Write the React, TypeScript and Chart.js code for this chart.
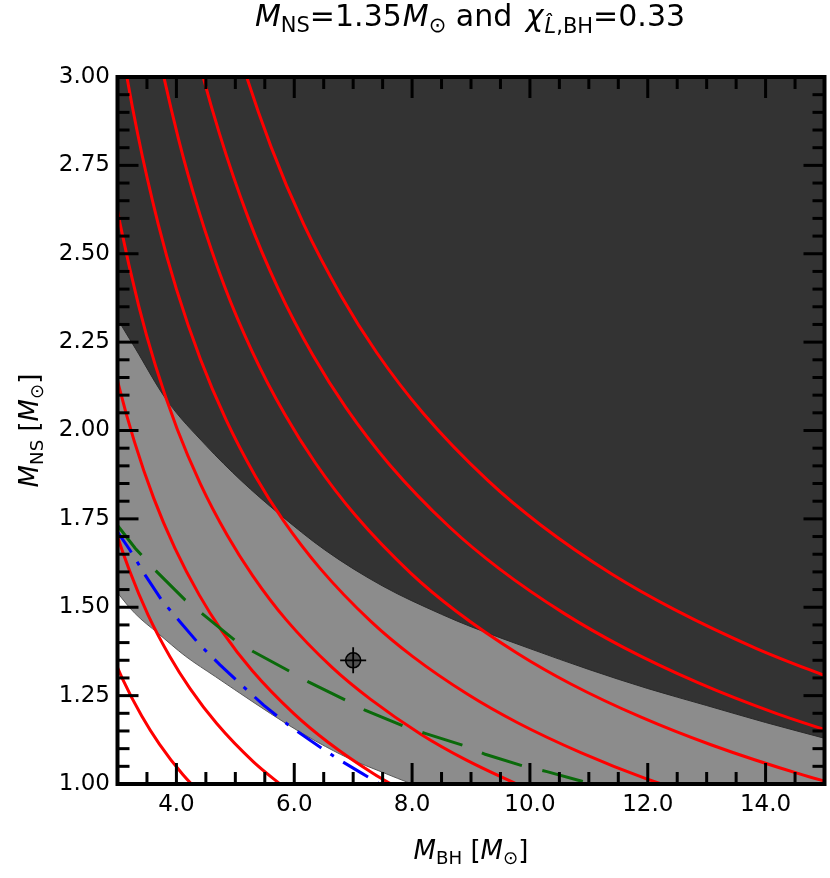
import React, { useEffect, useRef } from 'react';
import { Chart, registerables } from 'chart.js';

Chart.register(...registerables);

// ---- axes ----
const X_MIN = 3;
const X_MAX = 15;
const Y_MIN = 1;
const Y_MAX = 3;
const X_LABELS = [4, 6, 8, 10, 12, 14];
const Y_LABELS = [1.0, 1.25, 1.5, 1.75, 2.0, 2.25, 2.5, 2.75, 3.0];
const X_MINOR_STEP = 0.5;
const Y_MINOR_STEP = 0.05;

// ---- shaded regions (boundary curves, filled up to the top) ----
const DARK_BOUND: [number, number][] = [
  [2.9, 2.345], [2.96, 2.327], [3.3, 2.233], [3.835, 2.086], [4.5, 1.958], [5.1, 1.858],
  [5.73, 1.766], [6.52, 1.662], [7.5, 1.56], [8.5, 1.48], [9.0, 1.445], [10.0, 1.383],
  [11.0, 1.324], [12.0, 1.27], [13.0, 1.222], [14.0, 1.174], [15.1, 1.125],
];
const LOWER_BOUND: [number, number][] = [
  [2.9, 1.565], [3.01, 1.539], [3.3, 1.482], [3.69, 1.426], [4.15, 1.362], [4.66, 1.304],
  [5.3, 1.232], [5.9, 1.167], [6.4, 1.118], [6.92, 1.073], [7.5, 1.033], [8.0, 1.0],
  [8.5, 0.97], [15.2, 0.9],
];

// ---- red contours ----
const RED_1: [number, number][] = [
  [2.81, 1.405], [3.087, 1.297], [3.409, 1.193], [3.711, 1.113], [4.108, 1.027], [4.658, 0.932],
];
const RED_2: [number, number][] = [
  [2.686, 1.88], [2.911, 1.746], [3.205, 1.603], [3.52, 1.478], [3.888, 1.361], [4.232, 1.27],
  [4.684, 1.171], [5.312, 1.062], [5.827, 0.991],
];
const RED_3: [number, number][] = [
  [2.743, 2.331], [3.03, 2.121], [3.284, 1.97], [3.616, 1.808], [3.972, 1.668], [4.386, 1.535],
  [4.775, 1.432], [5.285, 1.321], [5.993, 1.199], [6.574, 1.118], [7.347, 1.029], [8.031, 0.964],
];
const RED_4: [number, number][] = [
  [2.803, 2.803], [3.042, 2.586], [3.361, 2.352], [3.642, 2.185], [4.011, 2.005], [4.405, 1.85],
  [4.865, 1.703], [5.296, 1.589], [5.861, 1.465], [6.647, 1.329], [7.291, 1.24], [8.148, 1.141],
  [8.907, 1.069], [9.9, 0.99],
];
const RED_5: [number, number][] = [
  [2.812, 3.375], [3.079, 3.079], [3.341, 2.84], [3.691, 2.584], [4.0, 2.4], [4.405, 2.203],
  [4.838, 2.032], [5.343, 1.87], [5.817, 1.745], [6.438, 1.61], [7.3, 1.46], [8.008, 1.361],
  [8.95, 1.253], [9.783, 1.174], [10.874, 1.088], [11.957, 1.016], [13.395, 0.938],
];
const RED_6: [number, number][] = [
  [3.074, 3.689], [3.366, 3.366], [3.653, 3.105], [4.035, 2.825], [4.374, 2.624], [4.816, 2.408],
  [5.29, 2.222], [5.842, 2.045], [6.359, 1.908], [7.038, 1.76], [7.981, 1.596], [8.755, 1.488],
  [9.785, 1.37], [10.696, 1.283], [11.888, 1.189], [13.072, 1.111], [14.645, 1.025], [16.034, 0.962],
];
const RED_7: [number, number][] = [
  [3.641, 3.641], [3.952, 3.359], [4.366, 3.056], [4.732, 2.839], [5.211, 2.605], [5.723, 2.403],
  [6.32, 2.212], [6.88, 2.064], [7.615, 1.904], [8.635, 1.727], [9.472, 1.61], [10.586, 1.482],
  [11.572, 1.388], [12.862, 1.286], [14.143, 1.202], [15.845, 1.109],
];
const RED_8: [number, number][] = [
  [4.251, 3.614], [4.697, 3.288], [5.09, 3.054], [5.605, 2.803], [6.156, 2.585], [6.799, 2.38],
  [7.401, 2.22], [8.192, 2.048], [9.289, 1.858], [10.189, 1.732], [11.388, 1.594], [12.448, 1.494],
  [13.836, 1.384], [15.213, 1.293],
];
const RED_CURVES = [RED_1, RED_2, RED_3, RED_4, RED_5, RED_6, RED_7, RED_8];

// ---- green dashed and blue dash-dot curves ----
const GREEN_DASHED: [number, number][] = [
  [2.96, 1.74], [3.3, 1.667], [3.64, 1.605], [4.15, 1.52], [4.43, 1.483], [4.99, 1.407],
  [5.31, 1.374], [5.93, 1.318], [6.24, 1.289], [6.92, 1.233], [7.2, 1.209], [7.88, 1.162],
  [8.22, 1.143], [8.93, 1.106], [9.24, 1.084], [9.92, 1.049], [10.29, 1.035], [10.94, 1.005],
];
const BLUE_DASHDOT: [number, number][] = [
  [2.96, 1.723], [3.21, 1.662], [3.47, 1.591], [3.75, 1.52], [4.06, 1.459], [4.4, 1.393],
  [4.74, 1.337], [5.14, 1.275], [5.48, 1.223], [5.9, 1.167], [6.3, 1.12], [6.72, 1.073],
  [7.15, 1.03], [7.46, 0.999],
];

// ---- injected point ----
const MARKER: [number, number][] = [[7.0, 1.35]];

const FONT = '"DejaVu Sans", "Liberation Sans", sans-serif';

// plot frame in canvas pixels
const AREA = { left: 117.5, right: 824.5, top: 77, bottom: 784 };

type Part = { t: string; size: number; italic?: boolean; dy?: number; gap?: number };

function partFont(p: Part) {
  return `${p.italic ? 'italic ' : ''}${p.size}px ${FONT}`;
}

function drawRich(ctx: CanvasRenderingContext2D, parts: Part[], x: number, y: number) {
  let w = 0;
  for (const p of parts) {
    ctx.font = partFont(p);
    w += ctx.measureText(p.t).width + (p.gap || 0);
  }
  let cx = x - w / 2;
  ctx.textAlign = 'left';
  ctx.textBaseline = 'alphabetic';
  ctx.fillStyle = '#000';
  for (const p of parts) {
    ctx.font = partFont(p);
    ctx.fillText(p.t, cx, y + (p.dy || 0));
    cx += ctx.measureText(p.t).width + (p.gap || 0);
  }
}

const TITLE_PARTS: Part[] = [
  { t: 'M', size: 30, italic: true },
  { t: 'NS', size: 21, dy: 6 },
  { t: '=1.35', size: 30, gap: 1 },
  { t: 'M', size: 30, italic: true },
  { t: '\u2299', size: 21, dy: 6 },
  { t: ' and ', size: 30, gap: 4 },
  { t: '\u03c7', size: 30, italic: true, gap: 1 },
  { t: 'L\u0302', size: 21, italic: true, dy: 6.5 },
  { t: ',BH', size: 21, dy: 6.5 },
  { t: '=0.33', size: 30 },
];
const XLABEL_PARTS: Part[] = [
  { t: 'M', size: 26, italic: true },
  { t: 'BH', size: 18.2, dy: 5 },
  { t: ' [', size: 26 },
  { t: 'M', size: 26, italic: true },
  { t: '\u2299', size: 18.2, dy: 5 },
  { t: ']', size: 26 },
];
const YLABEL_PARTS: Part[] = [
  { t: 'M', size: 26, italic: true },
  { t: 'NS', size: 18.2, dy: 5 },
  { t: ' [', size: 26 },
  { t: 'M', size: 26, italic: true },
  { t: '\u2299', size: 18.2, dy: 5 },
  { t: ']', size: 26 },
];

const framePlugin = {
  id: 'frameTicks',
  afterLayout(chart: any) {
    const ca = chart.chartArea;
    ca.left = AREA.left;
    ca.right = AREA.right;
    ca.top = AREA.top;
    ca.bottom = AREA.bottom;
    ca.width = AREA.right - AREA.left;
    ca.height = AREA.bottom - AREA.top;
    const xs = chart.scales.x;
    const ys = chart.scales.y;
    xs.left = AREA.left;
    xs.right = AREA.right;
    xs.width = AREA.right - AREA.left;
    xs.top = AREA.bottom;
    xs.bottom = chart.height;
    xs.height = chart.height - AREA.bottom;
    ys.left = 0;
    ys.right = AREA.left;
    ys.width = AREA.left;
    ys.top = AREA.top;
    ys.bottom = AREA.bottom;
    ys.height = AREA.bottom - AREA.top;
    xs.configure();
    ys.configure();
  },
  afterDatasetsDraw(chart: any) {
    const { ctx, chartArea: a, scales } = chart;
    const xs = scales.x;
    const ys = scales.y;
    ctx.save();
    ctx.strokeStyle = '#000';
    ctx.lineWidth = 3;
    ctx.lineCap = 'butt';
    const seg = (x1: number, y1: number, x2: number, y2: number) => {
      ctx.beginPath();
      ctx.moveTo(x1, y1);
      ctx.lineTo(x2, y2);
      ctx.stroke();
    };
    const nx = Math.round((X_MAX - X_MIN) / X_MINOR_STEP);
    for (let i = 1; i < nx; i++) {
      const v = X_MIN + i * X_MINOR_STEP;
      const major = X_LABELS.some((m) => Math.abs(m - v) < 1e-6);
      const len = major ? 21 : 12;
      const px = xs.getPixelForValue(v);
      seg(px, a.bottom, px, a.bottom - len);
      seg(px, a.top, px, a.top + len);
    }
    const ny = Math.round((Y_MAX - Y_MIN) / Y_MINOR_STEP);
    for (let i = 1; i < ny; i++) {
      const v = Y_MIN + i * Y_MINOR_STEP;
      const major = Y_LABELS.some((m) => Math.abs(m - v) < 1e-6);
      const len = major ? 21 : 12;
      const py = ys.getPixelForValue(v);
      seg(a.left, py, a.left + len, py);
      seg(a.right, py, a.right - len, py);
    }
    ctx.lineWidth = 4;
    ctx.strokeRect(a.left, a.top, a.right - a.left, a.bottom - a.top);
    ctx.restore();
  },
  afterDraw(chart: any) {
    const { ctx, chartArea: a } = chart;
    ctx.save();
    drawRich(ctx, TITLE_PARTS, 470, 26);
    drawRich(ctx, XLABEL_PARTS, (a.left + a.right) / 2, 859);
    ctx.translate(38, (a.top + a.bottom) / 2);
    ctx.rotate(-Math.PI / 2);
    drawRich(ctx, YLABEL_PARTS, 0, 0);
    ctx.restore();
  },
};

const toXY = (arr: [number, number][]) => arr.map(([x, y]) => ({ x, y }));

export default function App() {
  const ref = useRef<HTMLCanvasElement | null>(null);

  useEffect(() => {
    document.body.style.margin = '0';
    const canvas = ref.current;
    if (!canvas) return;

    const datasets: any[] = [
      {
        data: toXY(LOWER_BOUND),
        borderColor: '#5a5a5a',
        borderWidth: 1,
        backgroundColor: '#8c8c8c',
        fill: 'end',
        pointRadius: 0,
        cubicInterpolationMode: 'monotone',
        order: 20,
      },
      {
        data: toXY(DARK_BOUND),
        borderColor: '#2a2a2a',
        borderWidth: 1,
        backgroundColor: '#333333',
        fill: 'end',
        pointRadius: 0,
        cubicInterpolationMode: 'monotone',
        order: 19,
      },
      ...RED_CURVES.map((c, i) => ({
        data: toXY(c),
        borderColor: '#ff0000',
        borderWidth: 3,
        fill: false,
        pointRadius: 0,
        cubicInterpolationMode: 'monotone',
        order: 10 + i * 0.01,
      })),
      {
        data: toXY(GREEN_DASHED),
        borderColor: '#0a6a0a',
        borderWidth: 3,
        borderDash: [42, 21],
        fill: false,
        pointRadius: 0,
        order: 5,
      },
      {
        data: toXY(BLUE_DASHDOT),
        borderColor: '#0000ff',
        borderWidth: 3,
        borderDash: [29, 11, 4, 11],
        fill: false,
        pointRadius: 0,
        order: 4,
      },
      {
        data: toXY(MARKER),
        showLine: false,
        pointStyle: 'circle',
        pointRadius: 7.5,
        pointBackgroundColor: 'rgba(40,40,40,0.6)',
        pointBorderColor: '#000',
        pointBorderWidth: 1.6,
        order: 2,
      },
      {
        data: toXY(MARKER),
        showLine: false,
        pointStyle: 'cross',
        pointRadius: 13,
        pointBorderColor: '#000',
        pointBorderWidth: 1.8,
        order: 1,
      },
    ];

    const tickFont = { family: FONT, size: 23 };
    const chart = new Chart(canvas, {
      type: 'line',
      data: { datasets },
      options: {
        animation: false,
        responsive: false,
        maintainAspectRatio: false,
        devicePixelRatio: 1,
        layout: { padding: { top: 77, right: 5.5, left: 0, bottom: 0 } },
        plugins: {
          legend: { display: false },
          tooltip: { enabled: false },
          title: { display: false },
        },
        elements: { point: { radius: 0 }, line: { tension: 0 } },
        scales: {
          x: {
            type: 'linear',
            min: X_MIN,
            max: X_MAX,
            grid: { display: false, drawTicks: false },
            border: { display: false },
            afterBuildTicks: (s: any) => {
              s.ticks = X_LABELS.map((v) => ({ value: v }));
            },
            afterFit: (s: any) => {
              s.height = 94;
            },
            ticks: {
              font: tickFont,
              color: '#000',
              padding: 7,
              autoSkip: false,
              maxRotation: 0,
              callback: (v: any) => Number(v).toFixed(1),
            },
          },
          y: {
            type: 'linear',
            min: Y_MIN,
            max: Y_MAX,
            grid: { display: false, drawTicks: false },
            border: { display: false },
            afterBuildTicks: (s: any) => {
              s.ticks = Y_LABELS.map((v) => ({ value: v }));
            },
            afterFit: (s: any) => {
              s.width = 117.5;
            },
            ticks: {
              font: tickFont,
              color: '#000',
              padding: 7.5,
              autoSkip: false,
              callback: (v: any) => Number(v).toFixed(2),
            },
          },
        },
      } as any,
      plugins: [framePlugin],
    });
    return () => chart.destroy();
  }, []);

  return (
    <div style={{ position: 'absolute', left: 0, top: 0, width: 830, height: 878, background: '#fff' }}>
      <canvas ref={ref} width={830} height={878} style={{ display: 'block' }} />
    </div>
  );
}
